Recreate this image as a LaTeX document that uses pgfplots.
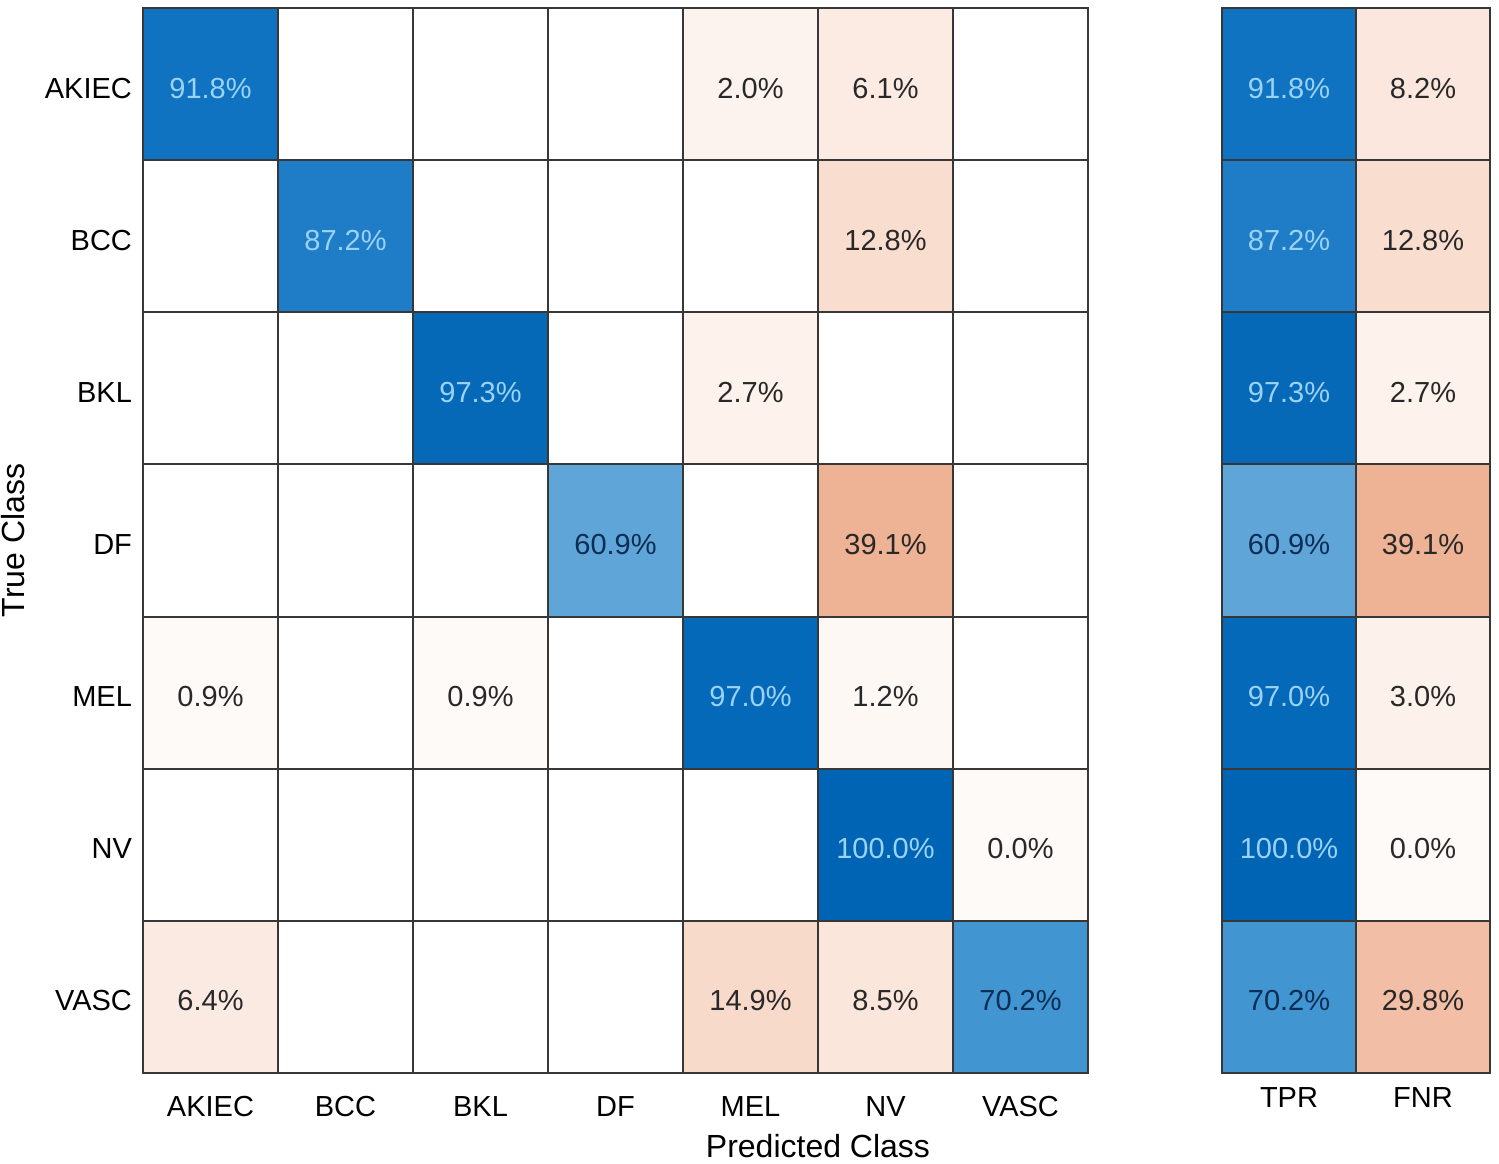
\documentclass[border=0pt]{standalone}
\usepackage{fontspec}
\setmainfont{Liberation Sans}
\usepackage{pgfplots}
\pgfplotsset{compat=1.18}

\definecolor{lightnum}{RGB}{155,210,245}
\definecolor{navynum}{RGB}{12,45,85}
\definecolor{darknum}{RGB}{40,40,40}
\definecolor{gridcol}{RGB}{55,55,55}

% signed meta: diagonal / TPR positive (blue), off-diagonal / FNR negative (orange)
\pgfplotsset{
  cmstyle/.style={
    colormap={conf}{
      rgb255(0pt)=(205,85,40);
      rgb255(60.9pt)=(238,178,148);
      rgb255(70.2pt)=(242,190,165);
      rgb255(87.2pt)=(249,222,208);
      rgb255(98pt)=(253,243,238);
      rgb255(100pt)=(255,255,255);
      rgb255(160.9pt)=(95,165,215);
      rgb255(170.2pt)=(65,150,210);
      rgb255(187.2pt)=(30,125,198);
      rgb255(191.8pt)=(15,115,193);
      rgb255(200pt)=(0,100,180)
    },
    point meta min=-100, point meta max=100,
  },
  cellaxis/.style={
    cmstyle,
    scale only axis,
    font=\fontsize{14.5}{17}\selectfont,
    /pgf/number format/assume math mode=true,
    y dir=reverse,
    ymin=-0.5, ymax=6.5,
    ytick={0,...,6},
    minor ytick={-0.5,0.5,...,6.5},
    major tick length=0pt, minor tick length=0pt,
    grid=minor,
    minor grid style={gridcol, line width=1pt},
    axis line style={gridcol, line width=1pt},
    axis on top,
    enlargelimits=false,
  },
  lbl/.style={
    draw=none, mark=none, point meta=explicit,
    nodes near coords={\pgfmathprintnumber[fixed,fixed zerofill,precision=1]{\pgfplotspointmeta}\%},
    nodes near coords align=center,
    every node near coord/.append style={text=#1, yshift=-2pt, font=\fontsize{14.5}{17}\selectfont},
  },
}

\begin{document}
\begin{tikzpicture}
\useasboundingbox (-71.5pt,-45pt) rectangle (678pt,536.5pt);

\begin{axis}[
  cellaxis,
  width=472.5pt, height=532.5pt,
  at={(0pt,0pt)}, anchor=south west,
  xmin=-0.5, xmax=6.5,
  xtick={0,...,6},
  minor xtick={-0.5,0.5,...,6.5},
  xticklabels={AKIEC,BCC,BKL,DF,MEL,NV,VASC},
  yticklabels={AKIEC,BCC,BKL,DF,MEL,NV,VASC},
  xticklabel style={yshift=-8pt},
  yticklabel style={xshift=-2pt, yshift=-2pt},
  xlabel={Predicted Class},
  ylabel={True Class},
  xlabel style={xshift=101.25pt, yshift=-2pt, font=\fontsize{16}{19}\selectfont},
  ylabel style={yshift=3pt, font=\fontsize{16}{19}\selectfont},
]
\addplot[matrix plot*, mesh/cols=7, mesh/ordering=x varies, point meta=explicit]
  table[meta=m] {
x y m
0 0 91.8
1 0 0
2 0 0
3 0 0
4 0 -2.0
5 0 -6.1
6 0 0
0 1 0
1 1 87.2
2 1 0
3 1 0
4 1 0
5 1 -12.8
6 1 0
0 2 0
1 2 0
2 2 97.3
3 2 0
4 2 -2.7
5 2 0
6 2 0
0 3 0
1 3 0
2 3 0
3 3 60.9
4 3 0
5 3 -39.1
6 3 0
0 4 -0.9
1 4 0
2 4 -0.9
3 4 0
4 4 97.0
5 4 -1.2
6 4 0
0 5 0
1 5 0
2 5 0
3 5 0
4 5 0
5 5 100.0
6 5 -0.8
0 6 -6.4
1 6 0
2 6 0
3 6 0
4 6 -14.9
5 6 -8.5
6 6 70.2
};
\addplot[lbl=lightnum] table[meta=v] {
x y v
0 0 91.8
1 1 87.2
2 2 97.3
4 4 97.0
5 5 100.0
};
\addplot[lbl=navynum] table[meta=v] {
x y v
3 3 60.9
6 6 70.2
};
\addplot[lbl=darknum] table[meta=v] {
x y v
4 0 2.0
5 0 6.1
5 1 12.8
4 2 2.7
5 3 39.1
0 4 0.9
2 4 0.9
5 4 1.2
6 5 0.0
0 6 6.4
4 6 14.9
5 6 8.5
};
\end{axis}

\begin{axis}[
  cellaxis,
  width=134pt, height=532.5pt,
  at={(539.5pt,0pt)}, anchor=south west,
  xmin=-0.5, xmax=1.5,
  xtick={0,1},
  minor xtick={-0.5,0.5,1.5},
  xticklabels={TPR,FNR},
  yticklabels={},
  xticklabel style={yshift=-3.5pt},
]
\addplot[matrix plot*, mesh/cols=2, mesh/ordering=x varies, point meta=explicit]
  table[meta=m] {
x y m
0 0 91.8
1 0 -8.2
0 1 87.2
1 1 -12.8
0 2 97.3
1 2 -2.7
0 3 60.9
1 3 -39.1
0 4 97.0
1 4 -3.0
0 5 100.0
1 5 -0.8
0 6 70.2
1 6 -29.8
};
\addplot[lbl=lightnum] table[meta=v] {
x y v
0 0 91.8
0 1 87.2
0 2 97.3
0 4 97.0
0 5 100.0
};
\addplot[lbl=navynum] table[meta=v] {
x y v
0 3 60.9
0 6 70.2
};
\addplot[lbl=darknum] table[meta=v] {
x y v
1 0 8.2
1 1 12.8
1 2 2.7
1 3 39.1
1 4 3.0
1 5 0.0
1 6 29.8
};
\end{axis}
\end{tikzpicture}
\end{document}
